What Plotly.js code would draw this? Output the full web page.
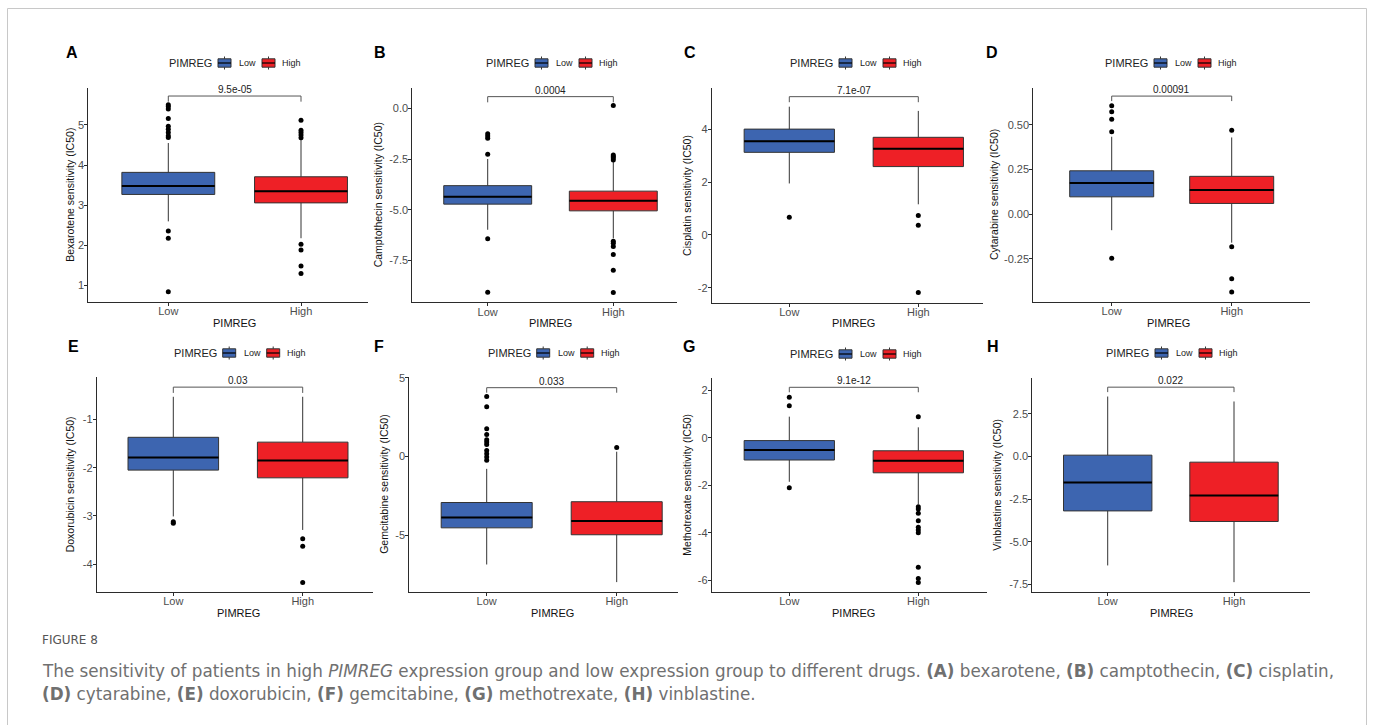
<!DOCTYPE html>
<html><head><meta charset="utf-8">
<script src="https://cdn.plot.ly/plotly-3.0.1.min.js"></script>
<style>html,body{margin:0;padding:0;background:#fff}#chart{width:1373px;height:725px}</style>
</head><body><div id="chart"></div>
<script>
// ---------------- DATA ----------------
const groups = ['Low', 'High'];
const groupTitle = 'PIMREG';
const panelLetters = ['A','B','C','D','E','F','G','H'];
const drugs = ['Bexarotene','Camptothecin','Cisplatin','Cytarabine','Doxorubicin','Gemcitabine','Methotrexate','Vinblastine'];
const pValues = ['9.5e-05','0.0004','7.1e-07','0.00091','0.03','0.033','9.1e-12','0.022'];

// Low expression group: box statistics per drug
const lowQ1     = [3.27, -4.72, 3.13, 0.097, -2.05, -4.54, -0.93, -3.19];
const lowMedian = [3.48, -4.35, 3.55, 0.175, -1.79, -3.88, -0.51, -1.52];
const lowQ3     = [3.82, -3.81, 4.01, 0.243, -1.37, -2.93, -0.11,  0.08];
const lowLower  = [2.60, -5.98, 1.95, -0.09, -3.01, -6.87, -1.85, -6.39];
const lowUpper  = [4.55, -2.50, 4.86, 0.434, -0.53, -0.79,  0.90,  3.52];
const lowOutliers = [
  [5.50, 5.46, 5.40, 5.16, 4.97, 4.89, 4.81, 4.73, 4.69, 2.36, 2.18, 0.85],
  [-1.25, -1.37, -1.48, -2.27, -6.42, -9.05],
  [0.67],
  [0.608, 0.574, 0.532, 0.462, -0.248],
  [-3.12, -3.15],
  [3.81, 3.16, 1.76, 1.40, 1.06, 0.91, 0.76, 0.38, 0.17, -0.04, -0.25],
  [1.72, 1.36, -2.10],
  []
];
// High expression group
const highQ1     = [3.06, -5.05, 2.59, 0.060, -2.21, -4.98, -1.47, -3.81];
const highMedian = [3.35, -4.55, 3.27, 0.135, -1.85, -4.11, -0.96, -2.29];
const highQ3     = [3.71, -4.08, 3.70, 0.212, -1.47, -2.88, -0.54, -0.33];
const highLower  = [2.18, -6.40, 1.16, -0.16, -3.29, -7.99, -2.80, -7.37];
const highUpper  = [4.65, -2.65, 4.70, 0.430, -0.53,  0.30,  0.45,  3.23];
const highOutliers = [
  [5.12, 4.87, 4.81, 4.75, 4.68, 2.03, 1.89, 1.49, 1.30],
  [0.13, -2.30, -2.38, -2.45, -2.55, -6.55, -6.65, -6.80, -7.20, -7.97, -9.07],
  [0.74, 0.37, -2.18],
  [0.471, -0.183, -0.362, -0.437],
  [-3.47, -3.63, -4.38],
  [0.57],
  [0.90, -2.90, -3.00, -3.18, -3.49, -3.77, -3.89, -4.00, -5.46, -5.93, -6.10],
  []
];
const yTickVals = [[1,2,3,4,5],[-7.5,-5,-2.5,0],[-2,0,2,4],[-0.25,0,0.25,0.5],[-4,-3,-2,-1],[-5,0,5],[-6,-4,-2,0,2],[-7.5,-5,-2.5,0,2.5]];
const yTickText = [['1','2','3','4','5'],['-7.5','-5.0','-2.5','0.0'],['-2','0','2','4'],['-0.25','0.00','0.25','0.50'],['-4','-3','-2','-1'],['-5','0','5'],['-6','-4','-2','0','2'],['-7.5','-5.0','-2.5','0.0','2.5']];

const captionHead = 'FIGURE 8';
const captionLine1 = 'The sensitivity of patients in high <i>PIMREG</i> expression group and low expression group to different drugs. <b>(A)</b> bexarotene, <b>(B)</b> camptothecin, <b>(C)</b> cisplatin,';
const captionLine2 = '<b>(D)</b> cytarabine, <b>(E)</b> doxorubicin, <b>(F)</b> gemcitabine, <b>(G)</b> methotrexate, <b>(H)</b> vinblastine.';

// ---------------- LAYOUT GEOMETRY (pixels) ----------------
const W = 1373, H = 725;
const geom = [
  {L:88.3,  R:368,  c1:168.3, c2:301,   T:88,    B:301.7, yr:[0.6, 5.92],    br:[5.58, 5.72],   lx:168,  ly:63,  tx:64,  ty:52,  ytx:70,    xty:323},
  {L:412.3, R:677,  c1:487.7, c2:613.3, T:87.7,  B:302.3, yr:[-9.55, 1.01],  br:[0.29, 0.57],   lx:485,  ly:63,  tx:372, ty:52,  ytx:378.3, xty:323},
  {L:711.7, R:983,  c1:789.3, c2:918.3, T:87.7,  B:302.7, yr:[-2.57, 5.58],  br:[5.03, 5.24],   lx:789,  ly:63,  tx:682, ty:52,  ytx:686.7, xty:323},
  {L:1033.3,R:1310, c1:1111.7,c2:1231.7,T:87.7,  B:301.7, yr:[-0.491, 0.709],br:[0.634, 0.662], lx:1104, ly:63,  tx:984, ty:52,  ytx:993.3, xty:323},
  {L:96.7,  R:373,  c1:173.3, c2:302.7, T:377,   B:591.7, yr:[-4.57, -0.12], br:[-0.45, -0.33], lx:172.7,ly:353, tx:66,  ty:347, ytx:70,    xty:613},
  {L:409.3, R:678,  c1:486.7, c2:616.7, T:377.3, B:591.7, yr:[-8.6, 5.03],   br:[4.05, 4.37],   lx:486.7,ly:353, tx:372, ty:347, ytx:383.3, xty:613},
  {L:711.7, R:987,  c1:789.3, c2:918.3, T:378.3, B:591.7, yr:[-6.49, 2.52],  br:[1.93, 2.14],   lx:789,  ly:354, tx:681, ty:347, ytx:686.7, xty:613},
  {L:1032.3,R:1310, c1:1107.7,c2:1234,  T:378.3, B:591.7, yr:[-7.93, 4.59],  br:[3.78, 4.07],   lx:1105, ly:353, tx:985, ty:347, ytx:996.7, xty:613}
];

const FONT = 'Liberation Sans, Arial, Helvetica, sans-serif';
const CAPFONT = 'DejaVu Sans, Open Sans, sans-serif';
const colors = ['#3D65B0', '#EE2026'];
const boxWidth = 0.7;

const traces = [];
const layout = {
  width: W, height: H,
  margin: {l:0, r:0, t:0, b:0},
  paper_bgcolor: '#fff', plot_bgcolor: 'rgba(0,0,0,0)',
  font: {family: FONT, color: '#222'},
  showlegend: false,
  boxmode: 'overlay',
  shapes: [], annotations: []
};
const px = v => v / W;
const py = v => 1 - v / H;

const statsLow  = {q1: lowQ1,  med: lowMedian,  q3: lowQ3,  lo: lowLower,  hi: lowUpper,  out: lowOutliers};
const statsHigh = {q1: highQ1, med: highMedian, q3: highQ3, lo: highLower, hi: highUpper, out: highOutliers};

geom.forEach((g, i) => {
  const k = i + 1;
  const xs = k === 1 ? 'x' : 'x' + k;
  const ys = k === 1 ? 'y' : 'y' + k;
  const xk = k === 1 ? 'xaxis' : 'xaxis' + k;
  const yk = k === 1 ? 'yaxis' : 'yaxis' + k;
  const ppu = g.c2 - g.c1;
  const xr = [1 - (g.c1 - g.L) / ppu, 2 + (g.R - g.c2) / ppu];

  layout[xk] = {
    domain: [px(g.L), px(g.R)], range: xr, anchor: ys,
    tickvals: [1, 2], ticktext: groups,
    showline: true, linecolor: '#2b2b2b', linewidth: 1,
    ticks: 'outside', ticklen: 3, tickcolor: '#2b2b2b', tickwidth: 1,
    ticklabelstandoff: -4,
    showgrid: false, zeroline: false, fixedrange: true, automargin: false,
    tickfont: {size: 11, color: '#4D4D4D'}
  };
  layout[yk] = {
    domain: [py(g.B), py(g.T)], range: g.yr, anchor: xs,
    tickvals: yTickVals[i], ticktext: yTickText[i],
    showline: true, linecolor: '#2b2b2b', linewidth: 1,
    ticks: 'outside', ticklen: 3, tickcolor: '#2b2b2b', tickwidth: 1,
    ticklabelstandoff: -2,
    showgrid: false, zeroline: false, fixedrange: true, automargin: false,
    tickfont: {size: 11, color: '#4D4D4D'}
  };

  [statsLow, statsHigh].forEach((s, gi) => {
    const pos = gi + 1;
    traces.push({
      type: 'box', orientation: 'v', name: groups[gi],
      x: [pos], q1: [s.q1[i]], median: [s.med[i]], q3: [s.q3[i]],
      lowerfence: [s.lo[i]], upperfence: [s.hi[i]],
      xaxis: xs, yaxis: ys,
      fillcolor: colors[gi], line: {color: '#333', width: 1},
      width: boxWidth, whiskerwidth: 0, boxpoints: false, hoverinfo: 'skip'
    });
    traces.push({
      type: 'scatter', mode: 'markers',
      x: s.out[i].map(() => pos), y: s.out[i],
      xaxis: xs, yaxis: ys, hoverinfo: 'skip',
      marker: {color: '#000', size: 5}
    });
    layout.shapes.push({type: 'line', xref: xs, yref: ys, x0: pos - boxWidth / 2, x1: pos + boxWidth / 2,
      y0: s.med[i], y1: s.med[i], line: {color: '#000', width: 2}});
  });

  // significance bracket + p value
  layout.shapes.push({type: 'path', xref: xs, yref: ys,
    path: `M1,${g.br[0]} L1,${g.br[1]} L2,${g.br[1]} L2,${g.br[0]}`,
    line: {color: '#555', width: 1}});
  layout.annotations.push({xref: xs, yref: ys, x: 1.5, y: g.br[1], text: pValues[i],
    showarrow: false, yanchor: 'bottom', font: {size: 10, color: '#222'}, yshift: -1});

  // axis titles
  const xCenter = (g.L + g.c2 + 0.6 * ppu) / 2;
  layout.annotations.push({xref: 'paper', yref: 'paper', x: px(xCenter), y: py(g.xty), xanchor: 'center', yanchor: 'middle',
    text: groupTitle, showarrow: false, font: {size: 11, color: '#111'}});
  layout.annotations.push({xref: 'paper', yref: 'paper', x: px(g.ytx), y: py((g.T + g.B) / 2), xanchor: 'center', yanchor: 'middle',
    textangle: -90, text: drugs[i] + ' sensitivity (IC50)', showarrow: false, font: {size: 10.5, color: '#111'}});

  // panel letter
  layout.annotations.push({xref: 'paper', yref: 'paper', x: px(g.tx), y: py(g.ty), xanchor: 'left', yanchor: 'middle',
    text: panelLetters[i], showarrow: false, font: {size: 16, weight: 700, color: '#000'}});

  // legend: title, keys and labels
  layout.annotations.push({xref: 'paper', yref: 'paper', x: px(g.lx - 1), y: py(g.ly), xanchor: 'left', yanchor: 'middle',
    text: groupTitle, showarrow: false, font: {size: 11, color: '#222'}});
  [[50, 70], [94, 113]].forEach((o, gi) => {
    const x0 = g.lx + o[0], x1 = x0 + 13, xm = x0 + 6.5;
    layout.shapes.push({type: 'rect', xref: 'paper', yref: 'paper', x0: px(x0), x1: px(x1), y0: py(g.ly + 4.2), y1: py(g.ly - 4.2),
      fillcolor: colors[gi], line: {color: '#333', width: 1}});
    layout.shapes.push({type: 'line', xref: 'paper', yref: 'paper', x0: px(x0), x1: px(x1), y0: py(g.ly), y1: py(g.ly),
      line: {color: '#000', width: 1.2}});
    layout.shapes.push({type: 'line', xref: 'paper', yref: 'paper', x0: px(xm), x1: px(xm), y0: py(g.ly - 4.2), y1: py(g.ly - 6.5),
      line: {color: '#333', width: 1}});
    layout.shapes.push({type: 'line', xref: 'paper', yref: 'paper', x0: px(xm), x1: px(xm), y0: py(g.ly + 4.2), y1: py(g.ly + 6.5),
      line: {color: '#333', width: 1}});
    layout.annotations.push({xref: 'paper', yref: 'paper', x: px(g.lx + o[1] - 1), y: py(g.ly), xanchor: 'left', yanchor: 'middle',
      text: groups[gi], showarrow: false, font: {size: 9, color: '#222'}});
  });
});

// frame and caption
layout.shapes.push({type: 'rect', xref: 'paper', yref: 'paper', x0: px(7.5), x1: px(1366.5), y0: py(8.5), y1: py(760),
  line: {color: '#c8c8c8', width: 1}});
layout.annotations.push({xref: 'paper', yref: 'paper', x: px(40), y: py(640), xanchor: 'left', yanchor: 'middle',
  text: captionHead, showarrow: false, font: {family: CAPFONT, size: 12, color: '#555'}});
layout.annotations.push({xref: 'paper', yref: 'paper', x: px(40), y: py(671), xanchor: 'left', yanchor: 'middle',
  text: captionLine1, showarrow: false, font: {family: CAPFONT, size: 16.8, color: '#707070'}});
layout.annotations.push({xref: 'paper', yref: 'paper', x: px(40), y: py(694), xanchor: 'left', yanchor: 'middle',
  text: captionLine2, showarrow: false, font: {family: CAPFONT, size: 16.8, color: '#707070'}});

Plotly.newPlot('chart', traces, layout, {staticPlot: true, displayModeBar: false});
</script></body></html>
